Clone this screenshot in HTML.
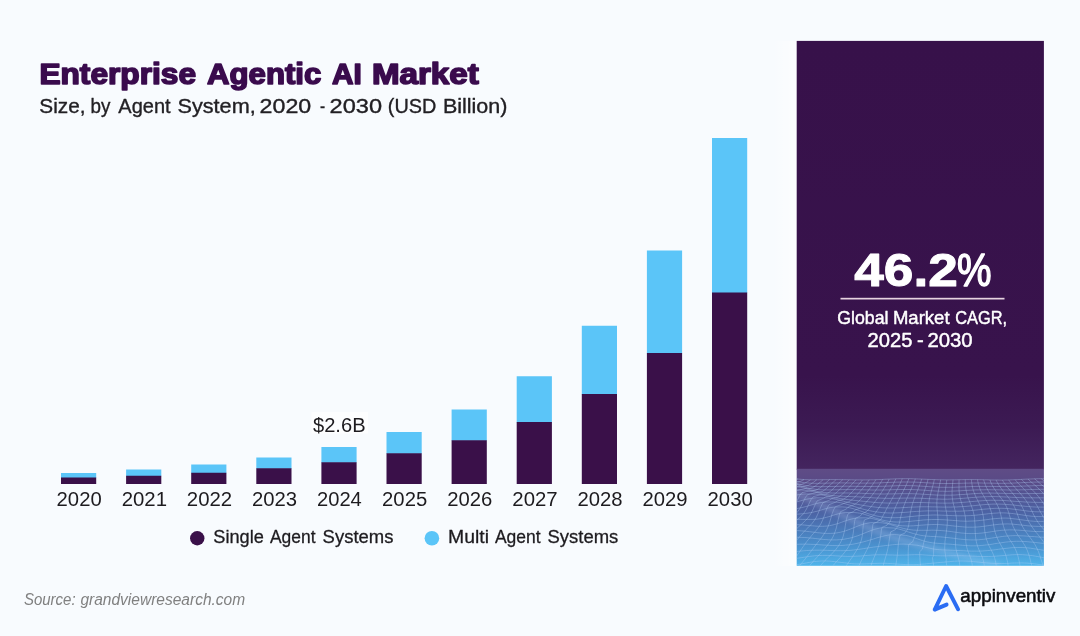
<!DOCTYPE html>
<html lang="en">
<head>
<meta charset="utf-8">
<title>Enterprise Agentic AI Market</title>
<style>
html,body{margin:0;padding:0;}
body{width:1080px;height:636px;overflow:hidden;background:#f8fbfe;font-family:"Liberation Sans",sans-serif;}
svg{display:block;position:absolute;left:0;top:0;will-change:transform;}
text{font-family:"Liberation Sans",sans-serif;}
</style>
</head>
<body>
<svg width="1080" height="636" viewBox="0 0 1080 636">
<defs>
<linearGradient id="pg" x1="0" y1="0" x2="0" y2="1">
<stop offset="0" stop-color="#37114a"/>
<stop offset="0.78" stop-color="#38134c"/>
<stop offset="0.9" stop-color="#3c1a53"/>
<stop offset="1" stop-color="#44255f"/>
</linearGradient>
<linearGradient id="mg" x1="0" y1="0" x2="0" y2="1">
<stop offset="0" stop-color="#5f4c86"/>
<stop offset="0.12" stop-color="#5a4a86"/>
<stop offset="0.45" stop-color="#4c63a4"/>
<stop offset="0.8" stop-color="#4a92cf"/>
<stop offset="1" stop-color="#4fb4ea"/>
</linearGradient>
<filter id="bl" x="-20%" y="-50%" width="140%" height="200%"><feGaussianBlur stdDeviation="2.2"/></filter>
<clipPath id="mc"><rect x="796.7" y="468.8" width="247.2" height="97"/></clipPath>
<linearGradient id="wg" x1="0" y1="0" x2="1" y2="0"><stop offset="0" stop-color="#ffffff" stop-opacity="0"/><stop offset="1" stop-color="#ffffff" stop-opacity="0.55"/></linearGradient>
</defs>
<rect x="0" y="0" width="1080" height="636" fill="#f8fbfe"/>
<rect x="61.00" y="473.00" width="35.20" height="5.00" fill="#5bc5f8"/>
<rect x="61.00" y="477.50" width="35.20" height="6.50" fill="#3a1049"/>
<rect x="126.10" y="469.50" width="35.20" height="6.75" fill="#5bc5f8"/>
<rect x="126.10" y="475.75" width="35.20" height="8.25" fill="#3a1049"/>
<rect x="191.20" y="464.50" width="35.20" height="8.75" fill="#5bc5f8"/>
<rect x="191.20" y="472.75" width="35.20" height="11.25" fill="#3a1049"/>
<rect x="256.30" y="457.50" width="35.20" height="11.25" fill="#5bc5f8"/>
<rect x="256.30" y="468.25" width="35.20" height="15.75" fill="#3a1049"/>
<rect x="321.40" y="447.00" width="35.20" height="15.75" fill="#5bc5f8"/>
<rect x="321.40" y="462.25" width="35.20" height="21.75" fill="#3a1049"/>
<rect x="386.50" y="432.00" width="35.20" height="21.75" fill="#5bc5f8"/>
<rect x="386.50" y="453.25" width="35.20" height="30.75" fill="#3a1049"/>
<rect x="451.60" y="409.50" width="35.20" height="31.25" fill="#5bc5f8"/>
<rect x="451.60" y="440.25" width="35.20" height="43.75" fill="#3a1049"/>
<rect x="516.70" y="376.25" width="35.20" height="46.25" fill="#5bc5f8"/>
<rect x="516.70" y="422.00" width="35.20" height="62.00" fill="#3a1049"/>
<rect x="581.80" y="325.75" width="35.20" height="68.75" fill="#5bc5f8"/>
<rect x="581.80" y="394.00" width="35.20" height="90.00" fill="#3a1049"/>
<rect x="646.90" y="250.50" width="35.20" height="103.00" fill="#5bc5f8"/>
<rect x="646.90" y="353.00" width="35.20" height="131.00" fill="#3a1049"/>
<rect x="712.00" y="138.00" width="35.20" height="155.00" fill="#5bc5f8"/>
<rect x="712.00" y="292.50" width="35.20" height="191.50" fill="#3a1049"/>
<rect x="311.5" y="412" width="56.5" height="21.5" fill="#ffffff" fill-opacity="0.75"/>
<text x="56.60" y="506.00" font-size="20.30" textLength="45.07" lengthAdjust="spacingAndGlyphs" fill="#1d1b1f">2020</text>
<text x="121.70" y="506.00" font-size="20.30" textLength="45.33" lengthAdjust="spacingAndGlyphs" fill="#1d1b1f">2021</text>
<text x="186.80" y="506.00" font-size="20.30" textLength="45.33" lengthAdjust="spacingAndGlyphs" fill="#1d1b1f">2022</text>
<text x="251.90" y="506.00" font-size="20.30" textLength="45.07" lengthAdjust="spacingAndGlyphs" fill="#1d1b1f">2023</text>
<text x="317.01" y="506.00" font-size="20.30" textLength="44.81" lengthAdjust="spacingAndGlyphs" fill="#1d1b1f">2024</text>
<text x="382.10" y="506.00" font-size="20.30" textLength="45.07" lengthAdjust="spacingAndGlyphs" fill="#1d1b1f">2025</text>
<text x="447.20" y="506.00" font-size="20.30" textLength="45.07" lengthAdjust="spacingAndGlyphs" fill="#1d1b1f">2026</text>
<text x="512.30" y="506.00" font-size="20.30" textLength="45.33" lengthAdjust="spacingAndGlyphs" fill="#1d1b1f">2027</text>
<text x="577.40" y="506.00" font-size="20.30" textLength="45.07" lengthAdjust="spacingAndGlyphs" fill="#1d1b1f">2028</text>
<text x="642.50" y="506.00" font-size="20.30" textLength="45.07" lengthAdjust="spacingAndGlyphs" fill="#1d1b1f">2029</text>
<text x="707.60" y="506.00" font-size="20.30" textLength="45.07" lengthAdjust="spacingAndGlyphs" fill="#1d1b1f">2030</text>
<text x="312.95" y="431.50" font-size="20.30" textLength="52.66" lengthAdjust="spacingAndGlyphs" fill="#1d1b1f">$2.6B</text>
<text x="39.43" y="84.40" font-size="28.80" textLength="156.60" lengthAdjust="spacingAndGlyphs" fill="#3a0b4d" font-weight="700" stroke="#3a0b4d" stroke-width="1.6" stroke-linejoin="round">Enterprise</text>
<text x="207.00" y="84.40" font-size="28.80" textLength="114.32" lengthAdjust="spacingAndGlyphs" fill="#3a0b4d" font-weight="700" stroke="#3a0b4d" stroke-width="1.6" stroke-linejoin="round">Agentic</text>
<text x="332.00" y="84.40" font-size="28.80" textLength="29.80" lengthAdjust="spacingAndGlyphs" fill="#3a0b4d" font-weight="700" stroke="#3a0b4d" stroke-width="1.6" stroke-linejoin="round">AI</text>
<text x="371.96" y="84.40" font-size="28.80" textLength="106.77" lengthAdjust="spacingAndGlyphs" fill="#3a0b4d" font-weight="700" stroke="#3a0b4d" stroke-width="1.6" stroke-linejoin="round">Market</text>
<text x="39.33" y="113.10" font-size="20.20" textLength="46.26" lengthAdjust="spacingAndGlyphs" fill="#222024" stroke="#222024" stroke-width="0.35" stroke-linejoin="round">Size,</text>
<text x="90.53" y="113.10" font-size="20.20" textLength="19.91" lengthAdjust="spacingAndGlyphs" fill="#222024" stroke="#222024" stroke-width="0.35" stroke-linejoin="round">by</text>
<text x="118.30" y="113.10" font-size="20.20" textLength="52.32" lengthAdjust="spacingAndGlyphs" fill="#222024" stroke="#222024" stroke-width="0.35" stroke-linejoin="round">Agent</text>
<text x="177.50" y="113.10" font-size="20.20" textLength="78.20" lengthAdjust="spacingAndGlyphs" fill="#222024" stroke="#222024" stroke-width="0.35" stroke-linejoin="round">System,</text>
<text x="259.64" y="113.10" font-size="20.20" textLength="51.63" lengthAdjust="spacingAndGlyphs" fill="#222024" stroke="#222024" stroke-width="0.35" stroke-linejoin="round">2020</text>
<text x="319.93" y="113.10" font-size="20.20" textLength="5.13" lengthAdjust="spacingAndGlyphs" fill="#222024" stroke="#222024" stroke-width="0.35" stroke-linejoin="round">-</text>
<text x="329.62" y="113.10" font-size="20.20" textLength="52.46" lengthAdjust="spacingAndGlyphs" fill="#222024" stroke="#222024" stroke-width="0.35" stroke-linejoin="round">2030</text>
<text x="387.82" y="113.10" font-size="20.20" textLength="48.53" lengthAdjust="spacingAndGlyphs" fill="#222024" stroke="#222024" stroke-width="0.35" stroke-linejoin="round">(USD</text>
<text x="442.90" y="113.10" font-size="20.20" textLength="64.56" lengthAdjust="spacingAndGlyphs" fill="#222024" stroke="#222024" stroke-width="0.35" stroke-linejoin="round">Billion)</text>
<text x="213.29" y="543.10" font-size="19.20" textLength="50.57" lengthAdjust="spacingAndGlyphs" fill="#1d1b1f" stroke="#1d1b1f" stroke-width="0.3" stroke-linejoin="round">Single</text>
<text x="270.00" y="543.10" font-size="19.20" textLength="45.51" lengthAdjust="spacingAndGlyphs" fill="#1d1b1f" stroke="#1d1b1f" stroke-width="0.3" stroke-linejoin="round">Agent</text>
<text x="322.58" y="543.10" font-size="19.20" textLength="70.88" lengthAdjust="spacingAndGlyphs" fill="#1d1b1f" stroke="#1d1b1f" stroke-width="0.3" stroke-linejoin="round">Systems</text>
<text x="448.08" y="543.10" font-size="19.20" textLength="41.00" lengthAdjust="spacingAndGlyphs" fill="#1d1b1f" stroke="#1d1b1f" stroke-width="0.3" stroke-linejoin="round">Multi</text>
<text x="494.90" y="543.10" font-size="19.20" textLength="45.71" lengthAdjust="spacingAndGlyphs" fill="#1d1b1f" stroke="#1d1b1f" stroke-width="0.3" stroke-linejoin="round">Agent</text>
<text x="547.48" y="543.10" font-size="19.20" textLength="70.88" lengthAdjust="spacingAndGlyphs" fill="#1d1b1f" stroke="#1d1b1f" stroke-width="0.3" stroke-linejoin="round">Systems</text>
<text x="23.92" y="605.30" font-size="15.80" textLength="51.74" lengthAdjust="spacingAndGlyphs" fill="#808080" font-style="italic">Source:</text>
<text x="80.40" y="605.30" font-size="15.80" textLength="164.79" lengthAdjust="spacingAndGlyphs" fill="#808080" font-style="italic">grandviewresearch.com</text>
<circle cx="197.25" cy="538.25" r="7.2" fill="#3a1049"/>
<circle cx="431.9" cy="538.25" r="7.3" fill="#5bc5f8"/>
<rect x="772" y="41" width="25" height="525" fill="url(#wg)"/><rect x="796.7" y="40.9" width="247.2" height="428.6" fill="url(#pg)"/>
<rect x="796.7" y="468.8" width="247.2" height="97" fill="url(#mg)"/>
<g clip-path="url(#mc)"><path d="M790 492 C830 505 860 528 905 541 S960 556 1000 566" fill="none" stroke="#b9d3f5" stroke-opacity="0.22" stroke-width="7" filter="url(#bl)"/><path d="M789.5 477.5 L792.0 478.0 L794.4 478.5 L796.9 478.9 L799.4 479.2 L801.9 479.4 L804.5 479.6 L807.0 479.7 L809.6 479.8 L812.1 479.8 L814.7 479.8 L817.3 479.8 L819.9 479.8 L822.5 479.7 L825.1 479.7 L827.8 479.7 L830.4 479.6 L833.0 479.6 L835.7 479.6 L838.3 479.6 L841.0 479.7 L843.7 479.7 L846.4 479.7 L849.1 479.8 L851.7 479.8 L854.4 479.9 L857.1 479.9 L859.8 479.9 L862.5 479.9 L865.3 479.9 L868.0 479.9 L870.7 479.8 L873.4 479.8 L876.1 479.7 L878.8 479.6 L881.5 479.5 L884.2 479.3 L886.9 479.2 L889.6 479.1 L892.3 479.0 L894.9 478.9 L897.6 478.8 L900.3 478.7 L902.9 478.7 L905.6 478.7 L908.2 478.7 L910.9 478.7 L913.5 478.8 L916.1 478.9 L918.7 479.0 L921.3 479.1 L923.9 479.2 L926.5 479.3 L929.0 479.4 L931.6 479.5 L934.1 479.6 L936.7 479.7 L939.2 479.8 L941.8 479.8 L944.3 479.8 L946.8 479.9 L949.3 479.9 L951.8 479.8 L954.3 479.8 L956.8 479.8 L959.3 479.7 L961.8 479.7 L964.3 479.6 L966.8 479.6 L969.3 479.6 L971.8 479.6 L974.3 479.6 L976.7 479.6 L979.2 479.7 L981.8 479.7 L984.3 479.8 L986.8 479.8 L989.3 479.9 L991.8 480.0 L994.3 480.0 L996.9 480.0 L999.4 480.1 L1002.0 480.1 L1004.6 480.0 L1007.1 480.0 L1009.7 479.9 L1012.3 479.8 L1014.9 479.7 L1017.5 479.6 L1020.1 479.5 L1022.8 479.3 L1025.4 479.2 L1028.0 479.1 L1030.7 479.0 L1033.3 478.9 L1036.0 478.8 L1038.7 478.7 L1041.4 478.7 L1044.1 478.7 L1046.8 478.7 M789.3 479.2 L791.8 480.0 L794.3 480.7 L796.8 481.4 L799.3 481.9 L801.8 482.3 L804.4 482.7 L807.0 482.9 L809.6 483.1 L812.2 483.2 L814.8 483.3 L817.4 483.3 L820.0 483.2 L822.7 483.2 L825.4 483.2 L828.0 483.1 L830.7 483.0 L833.4 483.0 L836.1 483.0 L838.7 482.9 L841.4 482.9 L844.1 482.9 L846.8 483.0 L849.6 483.0 L852.3 483.0 L855.0 483.1 L857.7 483.1 L860.4 483.1 L863.1 483.1 L865.8 483.1 L868.5 483.1 L871.2 483.1 L873.9 483.0 L876.6 483.0 L879.3 482.9 L881.9 482.8 L884.6 482.6 L887.3 482.5 L889.9 482.4 L892.6 482.3 L895.2 482.2 L897.9 482.1 L900.5 482.1 L903.1 482.0 L905.7 482.0 L908.3 482.0 L910.9 482.1 L913.5 482.1 L916.0 482.2 L918.6 482.3 L921.1 482.5 L923.7 482.6 L926.2 482.8 L928.7 482.9 L931.3 483.1 L933.8 483.2 L936.3 483.3 L938.8 483.4 L941.3 483.5 L943.8 483.5 L946.3 483.5 L948.8 483.5 L951.3 483.5 L953.8 483.5 L956.3 483.4 L958.8 483.3 L961.2 483.3 L963.7 483.2 L966.2 483.1 L968.7 483.1 L971.3 483.0 L973.8 483.0 L976.3 483.0 L978.8 483.0 L981.3 483.0 L983.9 483.1 L986.4 483.1 L989.0 483.1 L991.6 483.2 L994.1 483.2 L996.7 483.3 L999.3 483.3 L1001.9 483.3 L1004.5 483.3 L1007.1 483.2 L1009.8 483.2 L1012.4 483.1 L1015.0 483.0 L1017.7 482.9 L1020.4 482.8 L1023.0 482.6 L1025.7 482.5 L1028.4 482.4 L1031.1 482.3 L1033.8 482.1 L1036.5 482.1 L1039.2 482.0 L1041.9 482.0 L1044.6 482.0 L1047.3 482.0 M789.3 480.7 L791.9 481.6 L794.4 482.5 L796.9 483.3 L799.5 484.1 L802.0 484.7 L804.6 485.3 L807.2 485.7 L809.8 486.1 L812.5 486.4 L815.1 486.5 L817.8 486.6 L820.4 486.7 L823.1 486.7 L825.8 486.6 L828.5 486.6 L831.2 486.5 L833.9 486.4 L836.6 486.4 L839.3 486.3 L842.0 486.3 L844.7 486.2 L847.4 486.2 L850.1 486.3 L852.8 486.3 L855.5 486.3 L858.2 486.4 L860.9 486.4 L863.6 486.4 L866.3 486.4 L869.0 486.5 L871.6 486.5 L874.3 486.4 L877.0 486.4 L879.6 486.3 L882.2 486.3 L884.9 486.2 L887.5 486.1 L890.1 486.0 L892.7 485.9 L895.3 485.8 L897.9 485.7 L900.5 485.6 L903.0 485.6 L905.6 485.6 L908.1 485.6 L910.7 485.7 L913.2 485.7 L915.7 485.8 L918.2 486.0 L920.8 486.1 L923.3 486.3 L925.8 486.4 L928.3 486.6 L930.8 486.8 L933.3 486.9 L935.8 487.1 L938.2 487.2 L940.7 487.3 L943.2 487.3 L945.7 487.3 L948.2 487.3 L950.7 487.3 L953.2 487.3 L955.7 487.2 L958.2 487.1 L960.7 487.0 L963.3 486.9 L965.8 486.8 L968.3 486.7 L970.9 486.6 L973.4 486.5 L976.0 486.4 L978.5 486.4 L981.1 486.4 L983.7 486.4 L986.3 486.4 L988.9 486.4 L991.5 486.4 L994.1 486.5 L996.8 486.5 L999.4 486.5 L1002.1 486.6 L1004.7 486.6 L1007.4 486.5 L1010.0 486.5 L1012.7 486.5 L1015.4 486.4 L1018.1 486.3 L1020.8 486.2 L1023.5 486.1 L1026.2 486.0 L1028.9 485.9 L1031.6 485.8 L1034.3 485.7 L1037.0 485.6 L1039.7 485.5 L1042.4 485.5 L1045.1 485.5 L1047.8 485.5 M789.6 482.5 L792.2 483.2 L794.8 484.0 L797.4 484.8 L800.0 485.7 L802.6 486.5 L805.2 487.2 L807.8 487.9 L810.4 488.5 L813.1 488.9 L815.7 489.3 L818.4 489.6 L821.0 489.8 L823.7 489.9 L826.4 489.9 L829.1 489.9 L831.8 489.9 L834.5 489.8 L837.2 489.8 L839.9 489.7 L842.6 489.6 L845.3 489.6 L848.0 489.6 L850.7 489.6 L853.3 489.6 L856.0 489.7 L858.7 489.7 L861.3 489.8 L864.0 489.8 L866.6 489.9 L869.3 489.9 L871.9 490.0 L874.5 490.0 L877.1 490.0 L879.7 490.0 L882.3 490.0 L884.9 489.9 L887.4 489.9 L890.0 489.8 L892.5 489.7 L895.1 489.6 L897.6 489.6 L900.2 489.5 L902.7 489.5 L905.2 489.5 L907.7 489.5 L910.2 489.5 L912.7 489.6 L915.2 489.7 L917.7 489.8 L920.2 490.0 L922.7 490.1 L925.2 490.3 L927.7 490.5 L930.2 490.7 L932.7 490.8 L935.2 491.0 L937.7 491.1 L940.2 491.2 L942.7 491.2 L945.2 491.3 L947.7 491.3 L950.2 491.2 L952.8 491.1 L955.3 491.0 L957.8 490.9 L960.4 490.8 L963.0 490.6 L965.5 490.5 L968.1 490.3 L970.7 490.2 L973.3 490.1 L975.9 489.9 L978.5 489.9 L981.2 489.8 L983.8 489.8 L986.4 489.7 L989.1 489.7 L991.7 489.8 L994.4 489.8 L997.1 489.8 L999.8 489.9 L1002.4 489.9 L1005.1 489.9 L1007.8 490.0 L1010.5 490.0 L1013.2 490.0 L1015.9 489.9 L1018.7 489.9 L1021.4 489.8 L1024.1 489.8 L1026.8 489.7 L1029.5 489.6 L1032.2 489.5 L1034.9 489.4 L1037.6 489.4 L1040.3 489.3 L1043.0 489.3 L1045.7 489.3 L1048.3 489.4 M786.0 485.6 L792.8 485.8 L795.4 486.2 L798.1 486.7 L800.7 487.3 L803.4 487.9 L806.0 488.7 L808.6 489.4 L811.3 490.1 L813.9 490.7 L816.5 491.3 L819.2 491.8 L821.8 492.2 L824.5 492.5 L827.1 492.7 L829.8 492.9 L832.4 493.0 L835.1 493.0 L837.8 493.1 L840.4 493.0 L843.1 493.0 L845.7 493.0 L848.4 493.0 L851.0 493.1 L853.7 493.1 L856.3 493.2 L858.9 493.2 L861.5 493.3 L864.1 493.4 L866.7 493.5 L869.3 493.6 L871.8 493.7 L874.4 493.8 L877.0 493.9 L879.5 493.9 L882.0 494.0 L884.6 494.0 L887.1 493.9 L889.6 493.9 L892.1 493.9 L894.6 493.8 L897.1 493.8 L899.6 493.7 L902.1 493.7 L904.6 493.7 L907.1 493.7 L909.6 493.7 L912.1 493.7 L914.6 493.8 L917.1 493.9 L919.6 494.0 L922.1 494.2 L924.6 494.3 L927.1 494.5 L929.6 494.6 L932.1 494.8 L934.6 494.9 L937.2 495.1 L939.7 495.1 L942.3 495.2 L944.8 495.2 L947.4 495.2 L949.9 495.2 L952.5 495.1 L955.1 495.0 L957.7 494.8 L960.3 494.6 L962.9 494.5 L965.5 494.3 L968.2 494.1 L970.8 493.9 L973.5 493.7 L976.1 493.5 L978.8 493.4 L981.5 493.3 L984.1 493.2 L986.8 493.2 L989.5 493.1 L992.2 493.1 L994.9 493.2 L997.6 493.2 L1000.3 493.3 L1003.0 493.3 L1005.7 493.4 L1008.4 493.5 L1011.2 493.5 L1013.9 493.6 L1016.6 493.6 L1019.3 493.7 L1022.0 493.7 L1024.7 493.6 L1027.4 493.6 L1030.0 493.6 L1032.7 493.5 L1035.4 493.5 L1038.1 493.5 L1040.7 493.4 L1043.4 493.4 L1046.0 493.4 L1048.7 493.5 M786.9 490.6 L789.5 490.2 L792.1 490.0 L794.7 489.9 L801.5 490.0 L804.2 490.2 L806.9 490.5 L809.5 491.0 L812.2 491.5 L814.8 492.1 L817.4 492.7 L820.0 493.3 L822.6 493.8 L825.2 494.3 L827.8 494.8 L830.4 495.2 L833.0 495.5 L835.6 495.8 L838.2 496.0 L840.8 496.1 L843.4 496.3 L846.0 496.4 L848.5 496.5 L851.1 496.6 L853.7 496.7 L856.3 496.8 L858.8 496.9 L861.4 497.1 L863.9 497.3 L866.4 497.4 L869.0 497.6 L871.5 497.7 L874.0 497.9 L876.5 498.0 L879.0 498.1 L881.5 498.2 L884.0 498.3 L886.5 498.3 L889.0 498.4 L891.5 498.3 L894.0 498.3 L896.5 498.3 L899.0 498.2 L901.5 498.2 L904.0 498.1 L906.5 498.1 L909.0 498.1 L911.5 498.1 L914.0 498.1 L916.5 498.2 L919.0 498.2 L921.6 498.3 L924.1 498.4 L926.7 498.6 L929.2 498.7 L931.8 498.8 L934.3 498.9 L936.9 499.1 L939.5 499.1 L942.1 499.2 L944.7 499.2 L947.3 499.2 L949.9 499.1 L952.6 499.0 L955.2 498.9 L957.9 498.7 L960.5 498.6 L963.2 498.3 L965.9 498.1 L968.5 497.9 L971.2 497.6 L973.9 497.4 L976.6 497.2 L979.3 497.0 L982.0 496.9 L984.7 496.8 L987.4 496.7 L990.1 496.6 L992.9 496.6 L995.6 496.6 L998.3 496.7 L1001.0 496.8 L1003.7 496.9 L1006.4 497.0 L1009.1 497.1 L1011.8 497.3 L1014.4 497.4 L1017.1 497.5 L1019.8 497.6 L1022.5 497.7 L1025.1 497.7 L1027.8 497.8 L1030.4 497.8 L1033.1 497.8 L1035.7 497.8 L1038.3 497.8 L1040.9 497.8 L1043.5 497.8 L1046.1 497.8 L1048.7 497.8 M788.5 497.0 L790.9 496.4 L793.4 495.7 L795.8 495.2 L798.3 494.7 L800.9 494.3 L803.4 494.1 L806.1 494.0 L812.8 494.0 L815.5 494.1 L818.1 494.4 L820.7 494.7 L823.2 495.2 L825.8 495.7 L828.3 496.2 L830.8 496.8 L833.4 497.3 L835.9 497.8 L838.4 498.2 L840.9 498.7 L843.4 499.0 L845.9 499.4 L848.4 499.7 L850.9 500.0 L853.4 500.3 L855.9 500.5 L858.4 500.8 L860.9 501.0 L863.4 501.3 L865.9 501.5 L868.4 501.8 L870.9 502.0 L873.4 502.3 L875.9 502.5 L878.4 502.7 L880.9 502.8 L883.4 502.9 L885.8 503.0 L888.3 503.1 L890.8 503.1 L893.3 503.1 L895.9 503.0 L898.4 503.0 L900.9 502.9 L903.4 502.8 L905.9 502.7 L908.5 502.7 L911.0 502.6 L913.6 502.6 L916.2 502.5 L918.7 502.5 L921.3 502.6 L923.9 502.6 L926.5 502.7 L929.1 502.8 L931.7 502.9 L934.4 502.9 L937.0 503.0 L939.6 503.1 L942.3 503.1 L945.0 503.2 L947.6 503.1 L950.3 503.1 L953.0 503.0 L955.7 502.9 L958.4 502.7 L961.1 502.5 L963.8 502.3 L966.5 502.1 L969.2 501.8 L971.9 501.6 L974.6 501.3 L977.3 501.1 L980.0 500.9 L982.7 500.7 L985.4 500.5 L988.1 500.4 L990.8 500.3 L993.5 500.3 L996.2 500.3 L998.9 500.3 L1001.6 500.4 L1004.2 500.5 L1006.9 500.7 L1009.5 500.9 L1012.2 501.1 L1014.8 501.3 L1017.5 501.5 L1020.1 501.6 L1022.7 501.8 L1025.3 502.0 L1027.9 502.1 L1030.5 502.2 L1033.1 502.3 L1035.6 502.3 L1038.2 502.4 L1040.7 502.4 L1043.3 502.4 L1045.8 502.4 L1048.3 502.4 M790.0 503.7 L792.4 503.1 L794.8 502.4 L797.2 501.8 L799.6 501.1 L802.0 500.4 L804.4 499.8 L806.8 499.2 L809.2 498.7 L811.7 498.3 L814.2 498.0 L816.7 497.8 L823.4 497.8 L825.9 497.9 L828.4 498.1 L830.9 498.4 L833.4 498.9 L835.9 499.4 L838.3 499.9 L840.8 500.5 L843.2 501.1 L845.6 501.8 L848.1 502.3 L850.5 502.9 L852.9 503.4 L855.4 504.0 L857.9 504.4 L860.3 504.9 L862.8 505.3 L865.2 505.7 L867.7 506.1 L870.2 506.5 L872.7 506.8 L875.2 507.1 L877.7 507.4 L880.2 507.6 L882.7 507.8 L885.2 507.9 L887.8 508.0 L890.3 508.0 L892.9 508.0 L895.4 507.9 L898.0 507.9 L900.5 507.8 L903.1 507.6 L905.7 507.5 L908.3 507.3 L910.9 507.2 L913.5 507.1 L916.1 507.0 L918.8 506.9 L921.4 506.8 L924.1 506.8 L926.7 506.8 L929.4 506.8 L932.1 506.9 L934.7 506.9 L937.4 507.0 L940.1 507.0 L942.8 507.1 L945.5 507.1 L948.2 507.1 L950.9 507.1 L953.6 507.0 L956.3 507.0 L959.0 506.8 L961.8 506.7 L964.5 506.5 L967.2 506.3 L969.9 506.0 L972.6 505.8 L975.3 505.5 L978.0 505.2 L980.6 505.0 L983.3 504.7 L986.0 504.5 L988.7 504.4 L991.3 504.2 L994.0 504.1 L996.6 504.1 L999.2 504.1 L1001.9 504.2 L1004.5 504.3 L1007.1 504.5 L1009.7 504.7 L1012.3 504.9 L1014.9 505.2 L1017.4 505.5 L1020.0 505.8 L1022.6 506.0 L1025.1 506.3 L1027.6 506.5 L1030.2 506.7 L1032.7 506.9 L1035.2 507.0 L1037.7 507.1 L1040.2 507.1 L1042.7 507.1 L1045.2 507.1 L1047.7 507.0 M790.9 509.6 L793.4 509.2 L795.8 508.8 L798.3 508.3 L800.7 507.8 L803.0 507.3 L805.3 506.7 L807.6 506.1 L809.9 505.4 L812.2 504.7 L814.5 504.1 L816.8 503.5 L819.2 502.9 L821.5 502.5 L823.9 502.2 L826.4 502.0 L833.0 502.0 L835.5 502.1 L837.9 502.3 L840.4 502.7 L842.8 503.2 L845.2 503.8 L847.6 504.5 L850.0 505.2 L852.5 506.0 L854.9 506.7 L857.3 507.5 L859.8 508.2 L862.2 508.9 L864.7 509.6 L867.2 510.2 L869.7 510.7 L872.2 511.2 L874.7 511.7 L877.2 512.0 L879.8 512.3 L882.4 512.6 L884.9 512.8 L887.5 512.9 L890.1 513.0 L892.7 513.0 L895.3 512.9 L897.9 512.8 L900.6 512.6 L903.2 512.5 L905.9 512.3 L908.5 512.1 L911.2 511.8 L913.9 511.6 L916.5 511.4 L919.2 511.3 L921.9 511.1 L924.6 511.0 L927.3 510.9 L930.0 510.9 L932.7 510.9 L935.4 510.9 L938.1 510.9 L940.8 511.0 L943.5 511.1 L946.2 511.1 L949.0 511.2 L951.7 511.2 L954.4 511.2 L957.1 511.2 L959.7 511.2 L962.4 511.1 L965.1 510.9 L967.8 510.8 L970.5 510.6 L973.1 510.3 L975.8 510.1 L978.4 509.8 L981.0 509.5 L983.7 509.2 L986.3 509.0 L988.9 508.8 L991.5 508.6 L994.1 508.4 L996.7 508.3 L999.2 508.3 L1001.8 508.3 L1004.4 508.4 L1006.9 508.5 L1009.4 508.7 L1012.0 509.0 L1014.5 509.3 L1017.0 509.6 L1019.5 510.0 L1022.0 510.3 L1024.5 510.7 L1027.0 511.0 L1029.5 511.3 L1032.0 511.5 L1034.5 511.7 L1037.0 511.8 L1039.5 511.8 L1042.0 511.8 L1044.5 511.8 L1047.0 511.7 M791.1 514.6 L793.6 514.4 L796.0 514.2 L798.5 514.1 L800.9 513.9 L803.3 513.7 L805.7 513.4 L808.0 513.1 L810.4 512.7 L812.6 512.3 L814.9 511.7 L817.2 511.2 L819.4 510.5 L821.6 509.9 L823.9 509.2 L826.1 508.6 L828.4 508.0 L830.8 507.5 L833.2 507.2 L835.6 507.0 L842.2 506.9 L844.7 507.1 L847.2 507.3 L849.7 507.8 L852.1 508.4 L854.6 509.1 L857.1 509.8 L859.6 510.7 L862.0 511.5 L864.5 512.4 L867.1 513.3 L869.6 514.1 L872.1 514.8 L874.7 515.5 L877.3 516.1 L879.8 516.6 L882.5 517.0 L885.1 517.3 L887.7 517.5 L890.4 517.7 L893.0 517.7 L895.7 517.7 L898.4 517.6 L901.0 517.5 L903.7 517.3 L906.4 517.0 L909.1 516.7 L911.8 516.5 L914.5 516.2 L917.2 515.9 L919.9 515.7 L922.7 515.5 L925.4 515.3 L928.1 515.2 L930.8 515.1 L933.5 515.0 L936.2 515.0 L938.9 515.1 L941.6 515.2 L944.3 515.3 L946.9 515.4 L949.6 515.5 L952.3 515.6 L954.9 515.7 L957.6 515.8 L960.2 515.8 L962.9 515.8 L965.5 515.8 L968.1 515.7 L970.7 515.6 L973.3 515.4 L975.9 515.2 L978.5 514.9 L981.0 514.6 L983.6 514.3 L986.2 514.0 L988.7 513.7 L991.2 513.5 L993.8 513.2 L996.3 513.1 L998.8 512.9 L1001.3 512.9 L1003.8 512.9 L1006.3 513.0 L1008.8 513.2 L1011.3 513.4 L1013.8 513.7 L1016.3 514.1 L1018.8 514.4 L1021.3 514.8 L1023.8 515.2 L1026.3 515.6 L1028.8 515.9 L1031.3 516.2 L1033.8 516.4 L1036.3 516.5 L1038.8 516.6 L1041.3 516.6 L1043.8 516.6 L1046.4 516.5 M790.6 519.4 L793.1 519.3 L795.5 519.3 L798.0 519.3 L800.5 519.3 L802.9 519.4 L805.4 519.4 L807.8 519.4 L810.2 519.4 L812.6 519.4 L815.0 519.3 L817.3 519.1 L819.6 518.8 L821.9 518.4 L824.2 517.9 L826.5 517.3 L828.8 516.7 L831.1 516.0 L833.3 515.2 L835.7 514.5 L838.0 513.9 L840.4 513.3 L842.9 512.9 L845.4 512.6 L852.0 512.5 L854.6 512.6 L857.2 512.8 L859.8 513.2 L862.4 513.8 L864.9 514.5 L867.5 515.3 L870.1 516.2 L872.7 517.1 L875.3 518.0 L877.9 518.8 L880.5 519.6 L883.1 520.2 L885.8 520.8 L888.4 521.3 L891.1 521.6 L893.8 521.9 L896.4 522.0 L899.1 522.0 L901.8 522.0 L904.5 521.8 L907.2 521.6 L909.9 521.4 L912.6 521.1 L915.3 520.8 L918.0 520.6 L920.7 520.3 L923.4 520.0 L926.1 519.8 L928.8 519.7 L931.4 519.6 L934.1 519.5 L936.8 519.5 L939.4 519.6 L942.0 519.7 L944.7 519.8 L947.3 520.0 L949.9 520.2 L952.5 520.4 L955.1 520.6 L957.7 520.8 L960.3 521.0 L962.8 521.1 L965.4 521.2 L967.9 521.2 L970.5 521.1 L973.0 521.0 L975.5 520.9 L978.0 520.7 L980.6 520.4 L983.1 520.1 L985.6 519.8 L988.1 519.5 L990.6 519.1 L993.1 518.8 L995.6 518.6 L998.0 518.4 L1000.5 518.2 L1003.0 518.1 L1005.5 518.1 L1008.0 518.2 L1010.5 518.4 L1013.0 518.7 L1015.5 519.0 L1018.0 519.3 L1020.5 519.7 L1023.1 520.0 L1025.6 520.4 L1028.1 520.7 L1030.7 521.0 L1033.2 521.2 L1035.8 521.4 L1038.3 521.4 L1040.9 521.4 L1043.5 521.4 L1046.1 521.3 M789.7 524.7 L792.2 524.6 L794.7 524.6 L797.2 524.7 L799.7 524.8 L802.2 524.9 L804.7 525.1 L807.2 525.4 L809.7 525.6 L812.2 525.8 L814.7 526.0 L817.2 526.2 L819.7 526.3 L822.2 526.3 L824.6 526.2 L827.1 526.0 L829.5 525.7 L831.9 525.2 L834.3 524.6 L836.7 523.9 L839.1 523.2 L841.5 522.3 L843.9 521.4 L846.3 520.6 L848.7 519.8 L851.2 519.1 L853.7 518.5 L856.3 518.1 L858.9 517.9 L865.7 517.8 L868.4 518.0 L871.0 518.3 L873.7 518.9 L876.3 519.5 L879.0 520.3 L881.6 521.1 L884.3 521.9 L886.9 522.7 L889.5 523.5 L892.2 524.1 L894.8 524.7 L897.4 525.2 L900.1 525.6 L902.7 525.8 L905.4 525.9 L908.0 526.0 L910.7 525.9 L913.3 525.8 L916.0 525.6 L918.6 525.4 L921.2 525.2 L923.9 525.0 L926.5 524.8 L929.1 524.7 L931.7 524.6 L934.3 524.5 L936.9 524.6 L939.5 524.6 L942.0 524.8 L944.6 525.0 L947.1 525.2 L949.7 525.5 L952.2 525.8 L954.7 526.1 L957.3 526.3 L959.8 526.6 L962.3 526.8 L964.8 527.0 L967.3 527.2 L969.8 527.2 L972.3 527.2 L974.8 527.1 L977.3 527.0 L979.8 526.8 L982.2 526.5 L984.7 526.2 L987.2 525.8 L989.7 525.5 L992.2 525.1 L994.7 524.8 L997.2 524.5 L999.8 524.2 L1002.3 524.1 L1004.8 524.0 L1007.3 523.9 L1009.9 524.0 L1012.4 524.1 L1015.0 524.4 L1017.5 524.6 L1020.1 524.9 L1022.7 525.2 L1025.3 525.5 L1027.9 525.8 L1030.5 526.0 L1033.1 526.2 L1035.8 526.3 L1038.4 526.4 L1041.0 526.4 L1043.7 526.3 L1046.4 526.2 M789.0 530.6 L791.5 530.6 L794.1 530.6 L796.6 530.6 L799.2 530.7 L801.7 530.9 L804.3 531.1 L806.9 531.4 L809.5 531.7 L812.1 532.0 L814.7 532.3 L817.3 532.7 L819.9 532.9 L822.5 533.2 L825.1 533.4 L827.8 533.4 L830.4 533.4 L833.0 533.3 L835.5 533.1 L838.1 532.7 L840.6 532.2 L843.2 531.5 L845.7 530.8 L848.2 529.9 L850.6 529.0 L853.1 528.0 L855.5 527.0 L858.0 526.0 L860.5 525.1 L862.9 524.3 L865.5 523.6 L868.0 523.1 L870.6 522.7 L873.3 522.6 L880.1 522.7 L882.7 522.9 L885.4 523.4 L888.0 523.9 L890.6 524.6 L893.2 525.4 L895.8 526.2 L898.3 527.0 L900.9 527.7 L903.4 528.4 L906.0 529.0 L908.5 529.4 L911.1 529.8 L913.6 530.1 L916.2 530.2 L918.7 530.3 L921.3 530.3 L923.8 530.3 L926.3 530.3 L928.9 530.3 L931.4 530.2 L933.9 530.2 L936.4 530.3 L939.0 530.4 L941.5 530.6 L944.0 530.8 L946.5 531.0 L949.0 531.3 L951.5 531.6 L953.9 532.0 L956.4 532.3 L958.9 532.7 L961.4 533.0 L963.9 533.2 L966.4 533.4 L968.9 533.6 L971.4 533.6 L973.9 533.6 L976.4 533.5 L978.9 533.3 L981.5 533.1 L984.0 532.8 L986.5 532.5 L989.1 532.1 L991.6 531.7 L994.2 531.3 L996.7 530.9 L999.3 530.6 L1001.9 530.3 L1004.5 530.1 L1007.1 530.0 L1009.7 529.9 L1012.3 529.9 L1015.0 530.0 L1017.6 530.1 L1020.3 530.3 L1022.9 530.5 L1025.6 530.8 L1028.2 531.0 L1030.9 531.2 L1033.6 531.4 L1036.3 531.5 L1039.0 531.6 L1041.7 531.6 L1044.4 531.6 L1047.1 531.5 M788.7 537.3 L791.3 537.3 L793.9 537.2 L796.6 537.2 L799.2 537.3 L801.8 537.4 L804.5 537.5 L807.1 537.7 L809.8 538.0 L812.5 538.2 L815.2 538.5 L817.9 538.8 L820.5 539.1 L823.2 539.4 L825.9 539.6 L828.6 539.8 L831.3 539.9 L834.0 539.9 L836.7 539.9 L839.4 539.7 L842.0 539.5 L844.7 539.1 L847.3 538.6 L849.9 538.1 L852.5 537.4 L855.1 536.6 L857.6 535.8 L860.1 534.9 L862.5 533.9 L865.0 532.9 L867.4 531.9 L869.8 531.0 L872.2 530.1 L874.6 529.3 L877.0 528.7 L879.4 528.2 L881.9 527.8 L884.4 527.7 L887.0 527.7 L893.6 528.0 L896.2 528.4 L898.7 529.0 L901.2 529.7 L903.7 530.4 L906.1 531.2 L908.6 532.1 L911.0 532.8 L913.5 533.6 L915.9 534.2 L918.4 534.8 L920.8 535.3 L923.3 535.7 L925.7 536.0 L928.2 536.2 L930.6 536.4 L933.1 536.5 L935.6 536.6 L938.1 536.8 L940.6 536.9 L943.1 537.1 L945.5 537.4 L948.0 537.6 L950.5 537.9 L953.1 538.2 L955.6 538.5 L958.1 538.9 L960.6 539.2 L963.1 539.4 L965.7 539.7 L968.2 539.8 L970.8 539.9 L973.4 539.9 L975.9 539.9 L978.5 539.8 L981.1 539.5 L983.7 539.3 L986.3 538.9 L988.9 538.5 L991.6 538.1 L994.2 537.7 L996.8 537.3 L999.5 536.9 L1002.2 536.5 L1004.8 536.2 L1007.5 536.0 L1010.2 535.8 L1012.9 535.7 L1015.6 535.6 L1018.3 535.7 L1021.0 535.8 L1023.7 535.9 L1026.4 536.1 L1029.1 536.3 L1031.8 536.5 L1034.5 536.7 L1037.2 536.9 L1039.9 537.1 L1042.6 537.2 L1045.3 537.3 L1048.0 537.3 M789.1 544.6 L791.8 544.5 L794.5 544.4 L797.1 544.3 L799.8 544.2 L802.5 544.2 L805.2 544.1 L808.0 544.2 L810.7 544.3 L813.4 544.4 L816.1 544.5 L818.8 544.7 L821.5 544.9 L824.2 545.1 L826.9 545.2 L829.6 545.4 L832.3 545.5 L835.0 545.6 L837.7 545.6 L840.3 545.5 L843.0 545.4 L845.6 545.1 L848.3 544.9 L850.9 544.5 L853.5 544.1 L856.1 543.6 L858.7 543.0 L861.2 542.4 L863.7 541.8 L866.2 541.1 L868.7 540.4 L871.1 539.7 L873.5 539.0 L875.8 538.2 L878.2 537.5 L880.5 536.9 L882.7 536.3 L885.0 535.7 L887.3 535.3 L889.6 534.9 L892.0 534.7 L894.3 534.6 L896.8 534.7 L899.2 535.0 L905.6 535.4 L908.0 535.9 L910.5 536.6 L912.9 537.4 L915.3 538.2 L917.7 539.0 L920.1 539.8 L922.5 540.6 L925.0 541.3 L927.4 541.9 L929.8 542.4 L932.3 542.8 L934.8 543.1 L937.3 543.3 L939.8 543.5 L942.3 543.7 L944.9 543.9 L947.4 544.0 L950.0 544.2 L952.5 544.4 L955.1 544.7 L957.7 544.9 L960.3 545.1 L962.9 545.3 L965.5 545.5 L968.2 545.7 L970.8 545.8 L973.4 545.8 L976.1 545.8 L978.7 545.7 L981.4 545.5 L984.1 545.2 L986.8 544.9 L989.5 544.6 L992.2 544.2 L994.8 543.7 L997.5 543.3 L1000.3 542.9 L1003.0 542.5 L1005.7 542.1 L1008.4 541.8 L1011.1 541.6 L1013.8 541.4 L1016.5 541.3 L1019.2 541.3 L1021.9 541.4 L1024.6 541.5 L1027.3 541.7 L1030.0 542.0 L1032.7 542.2 L1035.4 542.5 L1038.0 542.8 L1040.7 543.1 L1043.3 543.4 L1046.0 543.6 L1048.6 543.8 M790.0 552.0 L792.7 551.8 L795.4 551.6 L798.1 551.3 L800.8 551.1 L803.5 550.8 L806.2 550.6 L808.9 550.4 L811.6 550.3 L814.3 550.2 L817.0 550.2 L819.6 550.2 L822.3 550.2 L825.0 550.3 L827.6 550.4 L830.2 550.5 L832.9 550.6 L835.5 550.7 L838.1 550.7 L840.7 550.7 L843.3 550.7 L845.9 550.6 L848.4 550.5 L851.0 550.3 L853.6 550.0 L856.1 549.7 L858.6 549.4 L861.2 549.0 L863.7 548.6 L866.2 548.2 L868.6 547.9 L871.1 547.5 L873.5 547.1 L876.0 546.8 L878.4 546.5 L880.7 546.2 L883.1 545.9 L885.4 545.6 L887.7 545.3 L890.0 545.1 L892.3 544.8 L894.5 544.6 L896.8 544.4 L899.1 544.2 L901.4 544.1 L903.8 544.1 L906.2 544.2 L908.7 544.4 L911.3 544.7 L917.0 545.2 L919.5 545.7 L922.0 546.3 L924.5 547.0 L927.0 547.6 L929.5 548.2 L932.0 548.7 L934.5 549.2 L937.1 549.5 L939.6 549.7 L942.2 549.9 L944.8 550.0 L947.4 550.1 L950.1 550.2 L952.7 550.3 L955.4 550.4 L958.1 550.5 L960.7 550.6 L963.4 550.7 L966.1 550.9 L968.8 551.0 L971.5 551.1 L974.2 551.1 L976.9 551.1 L979.6 551.1 L982.3 551.0 L985.0 550.8 L987.7 550.6 L990.4 550.3 L993.1 550.0 L995.8 549.7 L998.5 549.3 L1001.2 548.9 L1003.9 548.6 L1006.6 548.3 L1009.3 548.0 L1012.0 547.7 L1014.6 547.6 L1017.3 547.5 L1020.0 547.5 L1022.6 547.5 L1025.2 547.7 L1027.9 547.9 L1030.5 548.2 L1033.1 548.6 L1035.7 549.0 L1038.3 549.4 L1040.9 549.8 L1043.4 550.2 L1046.0 550.6 L1048.6 550.9 M791.0 559.1 L793.6 558.8 L796.3 558.4 L798.9 558.0 L801.6 557.6 L804.2 557.2 L806.9 556.8 L809.5 556.4 L812.1 556.1 L814.7 555.8 L817.3 555.6 L819.9 555.5 L822.5 555.4 L825.0 555.4 L827.6 555.4 L830.1 555.5 L832.7 555.6 L835.2 555.8 L837.7 555.9 L840.3 556.1 L842.8 556.2 L845.3 556.3 L847.8 556.4 L850.3 556.4 L852.8 556.3 L855.3 556.2 L857.8 556.1 L860.3 556.0 L862.7 555.8 L865.2 555.6 L867.7 555.4 L870.2 555.2 L872.7 555.0 L875.2 554.9 L877.7 554.8 L880.2 554.8 L882.6 554.8 L885.1 554.8 L887.6 554.9 L890.0 555.0 L892.5 555.0 L894.9 555.1 L897.3 555.2 L899.7 555.2 L902.1 555.1 L904.6 555.1 L907.0 555.0 L909.4 554.9 L911.9 554.8 L914.5 554.7 L917.1 554.7 L919.7 554.7 L922.5 554.8 L925.2 555.0 L928.0 555.2 L932.4 555.4 L935.0 555.6 L937.6 555.7 L940.3 555.8 L942.9 555.8 L945.6 555.8 L948.2 555.8 L950.9 555.7 L953.6 555.7 L956.3 555.7 L959.0 555.7 L961.7 555.7 L964.4 555.8 L967.1 555.9 L969.8 556.0 L972.5 556.1 L975.2 556.2 L977.9 556.4 L980.6 556.4 L983.3 556.5 L986.0 556.5 L988.6 556.5 L991.3 556.4 L994.0 556.3 L996.6 556.1 L999.2 555.9 L1001.9 555.7 L1004.5 555.5 L1007.1 555.2 L1009.7 555.0 L1012.3 554.8 L1014.9 554.7 L1017.5 554.6 L1020.0 554.6 L1022.6 554.7 L1025.1 554.9 L1027.7 555.1 L1030.2 555.4 L1032.7 555.7 L1035.2 556.1 L1037.8 556.6 L1040.3 557.0 L1042.8 557.5 L1045.3 557.9 L1047.8 558.3 M791.3 565.5 L793.9 565.2 L796.4 564.8 L799.0 564.3 L801.6 563.9 L804.1 563.4 L806.7 562.9 L809.2 562.4 L811.7 562.0 L814.2 561.6 L816.7 561.3 L819.3 561.1 L821.8 561.0 L824.3 560.9 L826.8 561.0 L829.3 561.1 L831.7 561.3 L834.2 561.6 L836.7 561.8 L839.2 562.2 L841.7 562.5 L844.2 562.8 L846.7 563.1 L849.2 563.4 L851.7 563.6 L854.2 563.8 L856.7 563.9 L859.3 563.9 L861.8 563.9 L864.3 563.9 L866.9 563.8 L869.4 563.7 L872.0 563.6 L874.5 563.5 L877.1 563.4 L879.7 563.3 L882.3 563.3 L884.9 563.3 L887.5 563.4 L890.1 563.5 L892.7 563.7 L895.3 563.9 L897.9 564.1 L900.6 564.3 L903.2 564.4 L905.8 564.6 L908.4 564.7 L911.0 564.7 L913.6 564.7 L916.2 564.6 L918.8 564.4 L921.5 564.2 L924.2 564.0 L926.8 563.8 L929.6 563.5 L932.3 563.2 L935.1 563.0 L937.8 562.7 L940.6 562.4 L943.4 562.2 L946.2 561.9 L949.3 561.7 L952.0 561.4 L954.7 561.2 L957.3 561.1 L960.0 561.0 L962.7 561.0 L965.3 561.1 L968.0 561.2 L970.6 561.3 L973.2 561.6 L975.9 561.8 L978.5 562.1 L981.1 562.4 L983.7 562.6 L986.3 562.9 L988.9 563.1 L991.4 563.3 L994.0 563.4 L996.6 563.5 L999.1 563.5 L1001.7 563.5 L1004.2 563.5 L1006.7 563.4 L1009.2 563.3 L1011.7 563.1 L1014.2 563.0 L1016.8 563.0 L1019.3 562.9 L1021.7 562.9 L1024.2 563.0 L1026.7 563.1 L1029.2 563.3 L1031.7 563.5 L1034.2 563.8 L1036.7 564.1 L1039.2 564.5 L1041.7 564.8 L1044.2 565.2 L1046.7 565.6 M790.7 571.5 L793.2 571.3 L795.7 571.0 L798.2 570.7 L800.7 570.3 L803.2 569.9 L805.7 569.5 L808.2 569.1 L810.6 568.7 L813.1 568.4 L815.6 568.1 L818.1 567.9 L820.6 567.8 L823.1 567.7 L825.6 567.8 L828.2 568.0 L830.7 568.2 L833.2 568.6 L835.7 569.0 L838.3 569.4 L840.8 569.9 L843.4 570.4 L846.0 570.9 L848.5 571.4 L851.1 571.8 L853.7 572.2 L856.3 572.5 L858.9 572.7 L861.5 572.8 L864.2 572.9 L866.8 572.8 L869.4 572.7 L872.1 572.6 L874.8 572.4 L877.4 572.2 L880.1 572.0 L882.8 571.8 L885.5 571.6 L888.2 571.4 L890.9 571.3 L893.6 571.2 L896.3 571.2 L899.0 571.2 L901.7 571.3 L904.4 571.4 L907.1 571.5 L909.8 571.6 L912.5 571.8 L915.1 571.8 L917.8 571.9 L920.5 571.9 L923.2 571.8 L925.8 571.7 L928.5 571.5 L931.2 571.2 L933.8 570.9 L936.5 570.5 L939.1 570.1 L941.8 569.7 L944.4 569.3 L947.1 568.9 L949.7 568.5 L952.4 568.1 L955.0 567.9 L957.6 567.6 L960.2 567.5 L962.8 567.5 L965.4 567.5 L968.0 567.6 L970.5 567.9 L973.1 568.2 L975.6 568.5 L978.1 569.0 L980.7 569.4 L983.2 569.9 L985.7 570.4 L988.2 570.8 L990.7 571.3 L993.2 571.6 L995.7 571.9 L998.2 572.2 L1000.7 572.3 L1003.1 572.4 L1005.6 572.4 L1008.1 572.4 L1010.6 572.2 L1013.1 572.1 L1015.6 571.9 L1018.1 571.8 L1020.6 571.6 L1023.2 571.4 L1025.7 571.3 L1028.2 571.3 L1030.7 571.2 L1033.3 571.3 L1035.8 571.4 L1038.4 571.5 L1040.9 571.7 L1043.5 571.9 L1046.1 572.1 M797.9 479.0 L794.5 480.0 L791.2 480.3 L788.0 480.0 L784.8 480.0 L781.5 481.2 L774.3 484.0 L771.7 488.1 L769.2 492.6 L766.6 496.9 L763.8 500.5 L760.8 503.6 L757.6 506.3 L754.5 508.8 L751.3 511.1 L748.1 513.3 L744.9 515.3 L741.7 517.2 L738.5 519.1 L735.3 520.9 L732.1 522.8 L728.8 524.7 L725.5 526.9 L722.1 529.1 L718.8 531.6 L715.4 534.0 L711.9 536.5 L708.5 538.9 L705.0 541.2 L701.5 543.3 L697.9 545.2 L694.4 546.9 L690.8 548.5 L687.2 550.0 L683.6 551.6 L680.0 553.3 L676.4 555.2 L672.8 557.3 L669.3 559.7 L665.7 562.1 L662.2 564.7 L658.7 567.2 L655.2 569.6 L651.8 571.8 L648.4 573.7 L645.0 575.4 M804.1 479.6 L800.8 481.2 L797.7 482.1 L794.6 482.3 L791.6 482.1 L788.6 482.3 L781.5 483.6 L778.6 486.5 L776.2 490.6 L773.9 495.0 L771.5 499.1 L768.9 502.7 L766.1 505.7 L763.1 508.4 L760.1 510.9 L757.1 513.2 L754.0 515.5 L751.0 517.6 L747.9 519.5 L744.7 521.4 L741.6 523.1 L738.4 524.9 L735.2 526.7 L731.9 528.6 L728.7 530.6 L725.3 532.8 L722.0 535.2 L718.6 537.6 L715.2 540.0 L711.8 542.4 L708.3 544.7 L704.9 546.8 L701.4 548.7 L698.0 550.4 L694.5 552.0 L691.1 553.5 L687.7 555.0 L684.3 556.7 L680.9 558.5 L677.6 560.5 L674.3 562.8 L671.0 565.2 L667.8 567.8 L664.6 570.4 L661.4 573.0 L658.3 575.4 M810.4 479.8 L807.3 481.8 L804.2 483.4 L801.3 484.3 L798.5 484.5 L795.7 484.3 L793.0 484.6 L786.0 486.1 L783.4 489.0 L781.2 493.0 L779.1 497.3 L776.8 501.2 L774.4 504.6 L771.7 507.6 L768.9 510.2 L766.0 512.7 L763.1 515.1 L760.1 517.4 L757.1 519.5 L754.1 521.5 L751.0 523.4 L747.9 525.2 L744.8 526.9 L741.6 528.6 L738.4 530.3 L735.2 532.1 L731.9 534.1 L728.6 536.2 L725.3 538.5 L722.0 540.9 L718.7 543.3 L715.4 545.7 L712.1 548.0 L708.8 550.2 L705.5 552.2 L702.3 554.1 L699.1 555.8 L695.9 557.4 L692.8 559.0 L689.6 560.6 L686.6 562.4 L683.5 564.4 L680.5 566.6 L677.6 569.0 L674.6 571.7 L671.7 574.5 M816.7 479.8 L813.8 482.0 L810.9 484.0 L808.1 485.5 L805.4 486.4 L802.9 486.6 L800.3 486.5 L797.7 486.9 L791.0 488.4 L788.6 491.3 L786.5 495.2 L784.6 499.4 L782.5 503.2 L780.1 506.4 L777.5 509.3 L774.8 511.8 L772.0 514.2 L769.2 516.6 L766.3 518.9 L763.3 521.2 L760.3 523.3 L757.3 525.3 L754.3 527.1 L751.2 528.8 L748.0 530.5 L744.9 532.2 L741.8 533.8 L738.6 535.6 L735.4 537.5 L732.2 539.6 L729.1 541.9 L725.9 544.3 L722.8 546.7 L719.7 549.2 L716.7 551.7 L713.6 554.1 L710.6 556.3 L707.7 558.4 L704.8 560.3 L701.9 562.1 L699.0 563.8 L696.2 565.5 L693.5 567.4 L690.7 569.3 L688.0 571.5 L685.2 573.9 M823.1 479.7 L820.4 482.0 L817.7 484.1 L815.1 486.1 L812.5 487.6 L810.0 488.4 L807.7 488.6 L805.3 488.6 L802.9 489.1 L796.3 490.6 L794.0 493.5 L792.1 497.3 L790.3 501.3 L788.2 505.0 L786.0 508.1 L783.5 510.8 L780.8 513.3 L778.1 515.6 L775.3 517.9 L772.4 520.3 L769.5 522.6 L766.6 524.8 L763.6 526.9 L760.6 528.9 L757.6 530.8 L754.6 532.6 L751.6 534.3 L748.5 536.0 L745.5 537.7 L742.5 539.5 L739.5 541.4 L736.6 543.5 L733.7 545.7 L730.8 548.2 L727.9 550.7 L725.1 553.4 L722.4 556.0 L719.6 558.6 L717.0 561.1 L714.3 563.5 L711.7 565.7 L709.1 567.7 L706.5 569.6 L703.9 571.4 L701.4 573.3 L698.8 575.2 M829.6 479.6 L827.0 481.8 L824.5 484.1 L822.1 486.2 L819.6 488.1 L817.3 489.5 L815.0 490.3 L812.8 490.6 L810.6 490.7 L808.4 491.2 L801.9 492.7 L799.7 495.5 L797.9 499.1 L796.1 503.0 L794.1 506.7 L791.9 509.7 L789.5 512.3 L786.9 514.7 L784.2 516.9 L781.4 519.2 L778.6 521.5 L775.8 523.9 L772.9 526.2 L770.0 528.5 L767.1 530.7 L764.3 532.8 L761.4 534.8 L758.5 536.7 L755.7 538.6 L752.9 540.3 L750.1 542.1 L747.3 544.0 L744.6 546.0 L742.0 548.1 L739.4 550.4 L736.8 552.8 L734.3 555.4 L731.8 558.2 L729.3 560.9 L726.9 563.7 L724.5 566.4 L722.0 569.0 L719.6 571.5 L717.2 573.7 L714.8 575.8 L712.3 577.7 M836.1 479.6 L833.7 481.8 L831.4 483.9 L829.1 486.0 L826.9 488.1 L824.6 489.9 L822.5 491.4 L820.4 492.2 L818.3 492.5 L816.2 492.6 L814.0 493.1 L807.6 494.6 L805.5 497.3 L803.7 500.9 L801.9 504.8 L800.0 508.3 L797.9 511.4 L795.5 514.0 L793.0 516.3 L790.3 518.5 L787.6 520.7 L784.9 522.9 L782.2 525.3 L779.4 527.7 L776.7 530.1 L773.9 532.6 L771.2 534.9 L768.6 537.2 L765.9 539.4 L763.3 541.5 L760.8 543.5 L758.3 545.5 L755.8 547.4 L753.4 549.3 L751.0 551.3 L748.7 553.4 L746.3 555.6 L744.1 558.0 L741.8 560.6 L739.5 563.2 L737.3 566.0 L735.0 568.8 L732.7 571.6 L730.4 574.3 L728.0 576.8 L725.7 579.2 M842.7 479.7 L840.5 481.7 L838.3 483.8 L836.2 485.9 L834.1 487.9 L832.0 489.9 L830.0 491.7 L827.9 493.1 L825.9 493.9 L823.9 494.3 L821.9 494.5 L819.8 495.0 L813.5 496.5 L811.3 499.1 L809.5 502.6 L807.7 506.5 L805.9 510.1 L803.8 513.3 L801.5 515.9 L799.1 518.2 L796.6 520.4 L794.0 522.5 L791.4 524.8 L788.8 527.1 L786.2 529.5 L783.7 532.0 L781.2 534.6 L778.7 537.1 L776.3 539.7 L773.9 542.2 L771.6 544.6 L769.3 546.9 L767.1 549.1 L764.9 551.1 L762.8 553.1 L760.6 555.1 L758.5 557.1 L756.4 559.0 L754.3 561.1 L752.2 563.3 L750.0 565.6 L747.9 568.0 L745.7 570.5 L743.4 573.1 L741.2 575.8 L738.8 578.4 M849.3 479.8 L847.3 481.8 L845.3 483.8 L843.3 485.8 L841.4 487.8 L839.4 489.8 L837.5 491.7 L835.5 493.4 L833.6 494.8 L831.6 495.7 L829.7 496.1 L827.7 496.3 L825.6 496.9 L823.4 498.3 L817.2 500.8 L815.3 504.3 L813.6 508.2 L811.8 512.0 L809.8 515.4 L807.7 518.2 L805.4 520.6 L803.1 522.8 L800.7 525.0 L798.3 527.1 L795.9 529.4 L793.6 531.7 L791.3 534.2 L789.0 536.8 L786.8 539.4 L784.7 542.1 L782.6 544.8 L780.6 547.4 L778.6 549.9 L776.6 552.3 L774.6 554.6 L772.6 556.8 L770.7 558.8 L768.7 560.7 L766.7 562.5 L764.7 564.3 L762.7 566.1 L760.6 568.0 L758.5 569.9 L756.3 571.9 L754.0 574.1 L751.8 576.3 M855.9 479.9 L854.1 481.9 L852.3 483.8 L850.5 485.8 L848.7 487.7 L846.8 489.7 L845.0 491.6 L843.1 493.4 L841.2 495.1 L839.3 496.5 L837.4 497.4 L835.4 498.0 L833.5 498.3 L831.5 498.9 L829.3 500.2 L823.0 502.6 L821.2 506.1 L819.5 510.0 L817.8 514.1 L816.1 517.7 L814.1 520.8 L812.1 523.4 L809.9 525.7 L807.8 527.9 L805.6 530.0 L803.5 532.2 L801.5 534.5 L799.5 536.8 L797.5 539.2 L795.6 541.8 L793.7 544.4 L791.9 547.0 L790.1 549.6 L788.3 552.2 L786.5 554.8 L784.7 557.2 L782.9 559.5 L781.0 561.6 L779.1 563.6 L777.2 565.5 L775.2 567.2 L773.1 568.8 L771.0 570.3 L768.9 571.9 L766.7 573.4 L764.5 575.1 M862.5 479.9 L860.9 482.0 L859.3 483.9 L857.6 485.9 L855.9 487.8 L854.2 489.7 L852.4 491.6 L850.6 493.5 L848.8 495.3 L846.9 497.0 L845.0 498.4 L843.1 499.4 L841.2 500.0 L839.3 500.4 L837.4 501.0 L835.3 502.3 L829.1 504.6 L827.2 507.9 L825.6 511.9 L824.2 516.1 L822.6 520.1 L821.0 523.5 L819.2 526.4 L817.4 528.9 L815.5 531.2 L813.6 533.3 L811.8 535.4 L810.1 537.5 L808.3 539.7 L806.6 541.8 L805.0 544.1 L803.3 546.4 L801.7 548.8 L800.0 551.2 L798.3 553.7 L796.6 556.1 L794.9 558.5 L793.1 560.9 L791.3 563.1 L789.4 565.2 L787.5 567.2 L785.5 569.1 L783.4 570.8 L781.3 572.4 L779.2 573.9 L777.0 575.3 M869.2 479.9 L867.7 481.9 L866.2 484.0 L864.7 486.0 L863.1 487.9 L861.5 489.8 L859.8 491.7 L858.1 493.6 L856.4 495.5 L854.5 497.3 L852.7 499.0 L850.8 500.5 L848.9 501.7 L847.1 502.4 L845.2 502.9 L843.4 503.5 L841.5 504.6 L835.4 506.7 L833.6 509.8 L832.2 513.7 L830.9 518.0 L829.7 522.3 L828.3 526.0 L826.9 529.3 L825.4 532.0 L823.8 534.4 L822.3 536.6 L820.8 538.7 L819.2 540.6 L817.7 542.6 L816.2 544.5 L814.7 546.4 L813.2 548.4 L811.7 550.4 L810.1 552.5 L808.5 554.6 L806.8 556.8 L805.1 559.0 L803.3 561.2 L801.5 563.4 L799.6 565.7 L797.6 567.8 L795.6 570.0 L793.6 572.0 L791.6 573.9 L789.5 575.8 M875.9 479.7 L874.5 481.8 L873.1 483.9 L871.7 486.0 L870.3 488.0 L868.7 490.0 L867.2 492.0 L865.5 493.9 L863.8 495.9 L862.1 497.8 L860.3 499.7 L858.5 501.5 L856.7 503.0 L854.9 504.3 L853.1 505.2 L851.4 505.8 L849.7 506.3 L848.0 507.3 L846.3 509.0 L840.5 511.7 L839.2 515.4 L838.2 519.7 L837.2 524.0 L836.3 528.0 L835.2 531.5 L834.0 534.6 L832.8 537.2 L831.5 539.4 L830.2 541.5 L828.8 543.4 L827.5 545.2 L826.1 547.0 L824.7 548.7 L823.3 550.3 L821.7 552.0 L820.2 553.7 L818.5 555.5 L816.9 557.4 L815.1 559.3 L813.3 561.3 L811.5 563.5 L809.6 565.7 L807.7 568.0 L805.8 570.3 L803.9 572.7 L802.0 575.1 M882.5 479.4 L881.3 481.6 L880.0 483.7 L878.7 485.8 L877.4 488.0 L875.9 490.1 L874.4 492.2 L872.9 494.2 L871.3 496.3 L869.6 498.3 L867.9 500.3 L866.2 502.3 L864.5 504.2 L862.7 505.9 L861.1 507.3 L859.5 508.3 L857.9 509.0 L856.5 509.5 L855.1 510.2 L853.6 511.5 L848.1 513.8 L847.0 517.0 L846.1 520.9 L845.4 525.1 L844.8 529.2 L844.0 532.9 L843.2 536.2 L842.2 538.9 L841.1 541.4 L839.9 543.5 L838.7 545.5 L837.4 547.3 L836.1 549.1 L834.7 550.7 L833.2 552.3 L831.7 553.9 L830.1 555.5 L828.5 557.1 L826.8 558.8 L825.0 560.5 L823.3 562.4 L821.5 564.4 L819.8 566.5 L818.0 568.8 L816.3 571.2 L814.7 573.8 M889.2 479.1 L888.1 481.3 L886.9 483.4 L885.7 485.6 L884.4 487.8 L883.0 490.0 L881.6 492.2 L880.2 494.4 L878.6 496.6 L877.1 498.8 L875.5 501.0 L873.9 503.1 L872.3 505.2 L870.7 507.2 L869.1 509.0 L867.6 510.5 L866.3 511.7 L865.0 512.4 L863.8 512.9 L862.7 513.4 L861.6 514.3 L860.5 515.9 L855.3 518.4 L854.6 521.7 L854.1 525.6 L853.7 529.6 L853.2 533.4 L852.6 536.8 L851.8 539.7 L850.8 542.3 L849.7 544.6 L848.5 546.8 L847.3 548.8 L845.9 550.7 L844.5 552.5 L843.0 554.3 L841.5 556.1 L839.9 557.9 L838.3 559.6 L836.7 561.4 L835.1 563.2 L833.5 565.1 L831.9 567.1 L830.4 569.2 L828.9 571.4 L827.5 573.7 M895.8 478.8 L894.8 481.0 L893.7 483.1 L892.6 485.3 L891.4 487.6 L890.1 489.8 L888.8 492.1 L887.4 494.4 L886.0 496.8 L884.5 499.1 L883.0 501.4 L881.5 503.7 L880.1 505.9 L878.7 508.1 L877.3 510.2 L876.0 512.1 L874.8 513.8 L873.6 515.1 L872.6 516.0 L871.7 516.5 L870.9 516.8 L870.1 517.2 L869.3 518.2 L864.4 519.9 L863.7 522.5 L863.2 525.8 L862.9 529.5 L862.6 533.2 L862.1 536.7 L861.4 539.8 L860.5 542.6 L859.4 545.1 L858.3 547.4 L857.0 549.7 L855.6 551.9 L854.2 554.1 L852.8 556.3 L851.3 558.5 L849.8 560.6 L848.3 562.8 L846.9 564.9 L845.5 567.1 L844.2 569.2 L842.9 571.3 L841.6 573.5 L840.5 575.7 M902.3 478.7 L901.4 480.8 L900.4 482.9 L899.4 485.1 L898.3 487.4 L897.1 489.7 L895.8 492.0 L894.6 494.3 L893.2 496.7 L891.9 499.1 L890.6 501.5 L889.3 503.9 L888.0 506.3 L886.7 508.6 L885.6 510.9 L884.5 513.0 L883.4 515.0 L882.5 516.8 L881.7 518.2 L880.9 519.3 L880.3 519.9 L879.7 520.1 L879.1 520.3 L878.5 520.7 L877.9 521.8 L873.1 523.6 L872.6 526.2 L872.2 529.4 L871.8 532.9 L871.4 536.4 L870.8 539.7 L870.0 542.7 L869.0 545.5 L867.8 548.1 L866.6 550.6 L865.3 553.1 L864.0 555.6 L862.6 558.2 L861.3 560.7 L860.1 563.3 L858.8 565.9 L857.7 568.5 L856.6 571.0 L855.6 573.5 L854.6 575.9 L853.7 578.2 M908.8 478.7 L908.0 480.8 L907.1 482.9 L906.1 485.1 L905.1 487.3 L904.0 489.6 L902.9 491.9 L901.7 494.2 L900.5 496.6 L899.3 499.0 L898.1 501.4 L897.0 503.8 L895.9 506.2 L894.9 508.6 L893.9 511.0 L893.1 513.2 L892.3 515.4 L891.5 517.5 L890.9 519.3 L890.3 520.9 L889.8 522.1 L889.3 522.9 L888.9 523.3 L888.5 523.5 L888.0 523.7 L887.4 524.2 L886.8 525.4 L882.0 527.3 L881.4 530.0 L881.0 533.3 L880.5 536.8 L880.0 540.3 L879.2 543.6 L878.4 546.6 L877.4 549.5 L876.3 552.2 L875.2 554.9 L874.1 557.5 L873.0 560.2 L871.9 563.0 L871.0 565.7 L870.1 568.5 L869.2 571.2 L868.5 573.9 L867.8 576.5 L867.2 579.0 M915.3 478.8 L914.6 480.9 L913.7 483.0 L912.8 485.2 L911.9 487.4 L910.9 489.6 L909.9 491.9 L908.8 494.2 L907.8 496.5 L906.7 498.9 L905.7 501.2 L904.8 503.6 L903.9 505.9 L903.1 508.3 L902.4 510.6 L901.8 512.9 L901.2 515.1 L900.7 517.2 L900.2 519.3 L899.8 521.2 L899.4 522.9 L899.0 524.3 L898.7 525.4 L898.3 526.2 L897.9 526.6 L897.5 526.9 L896.9 527.3 L896.3 528.2 L895.5 529.6 L890.7 531.9 L890.1 534.8 L889.5 538.2 L889.0 541.8 L888.5 545.4 L887.8 548.8 L887.1 551.9 L886.3 554.8 L885.5 557.5 L884.7 560.2 L884.0 562.7 L883.3 565.3 L882.6 567.9 L882.1 570.4 L881.6 572.9 L881.1 575.3 L880.7 577.7 M921.7 479.1 L921.0 481.2 L920.3 483.3 L919.5 485.5 L918.6 487.7 L917.8 489.9 L916.8 492.1 L915.9 494.4 L915.0 496.6 L914.2 498.9 L913.4 501.1 L912.7 503.4 L912.0 505.6 L911.5 507.8 L911.0 510.0 L910.6 512.2 L910.2 514.3 L909.9 516.4 L909.6 518.5 L909.4 520.5 L909.1 522.5 L908.8 524.3 L908.5 526.0 L908.1 527.5 L907.7 528.7 L907.3 529.7 L906.8 530.4 L906.2 531.1 L905.6 531.9 L904.8 533.2 L900.1 535.1 L899.4 537.7 L898.8 540.9 L898.3 544.4 L898.0 548.1 L897.7 551.7 L897.3 555.1 L896.9 558.1 L896.5 560.9 L896.1 563.4 L895.7 565.7 L895.4 567.9 L895.1 570.0 L894.8 572.1 L894.5 574.1 L894.3 576.0 M928.0 479.4 L927.5 481.5 L926.8 483.7 L926.1 485.9 L925.4 488.1 L924.6 490.3 L923.8 492.5 L923.1 494.7 L922.4 496.9 L921.7 499.1 L921.1 501.2 L920.6 503.3 L920.2 505.4 L919.9 507.4 L919.6 509.5 L919.4 511.5 L919.3 513.5 L919.2 515.5 L919.0 517.5 L918.9 519.5 L918.8 521.5 L918.6 523.5 L918.3 525.5 L918.0 527.5 L917.6 529.4 L917.1 531.1 L916.6 532.6 L916.0 534.0 L915.4 535.2 L914.8 536.4 L914.2 537.8 L913.5 539.5 L912.8 541.7 L908.7 544.5 L908.4 547.8 L908.2 551.3 L908.2 554.8 L908.2 558.2 L908.2 561.3 L908.2 564.1 L908.2 566.5 L908.2 568.6 L908.1 570.5 L908.0 572.3 L907.9 573.9 L907.8 575.5 M934.3 479.6 L933.8 481.9 L933.3 484.1 L932.7 486.3 L932.1 488.6 L931.4 490.8 L930.8 493.0 L930.3 495.2 L929.7 497.3 L929.3 499.4 L929.0 501.4 L928.7 503.5 L928.5 505.4 L928.4 507.4 L928.4 509.3 L928.4 511.1 L928.4 513.0 L928.4 514.9 L928.5 516.8 L928.4 518.7 L928.4 520.7 L928.2 522.7 L928.0 524.8 L927.7 527.0 L927.3 529.1 L926.9 531.3 L926.4 533.5 L925.8 535.5 L925.3 537.5 L924.7 539.3 L924.2 541.0 L923.7 542.8 L923.3 544.6 L922.8 546.6 L922.5 549.0 L919.7 551.7 L919.7 554.7 L919.9 557.7 L920.1 560.8 L920.4 563.7 L920.7 566.3 L921.0 568.7 L921.1 570.8 L921.2 572.6 L921.2 574.4 L921.1 576.0 M940.6 479.8 L940.2 482.1 L939.7 484.4 L939.2 486.7 L938.8 488.9 L938.3 491.2 L937.9 493.4 L937.5 495.5 L937.2 497.7 L937.0 499.7 L936.9 501.7 L936.8 503.7 L936.9 505.6 L937.0 507.5 L937.1 509.3 L937.3 511.2 L937.5 513.0 L937.7 514.8 L937.8 516.7 L937.9 518.6 L937.9 520.6 L937.8 522.6 L937.6 524.7 L937.4 526.9 L937.0 529.1 L936.6 531.4 L936.2 533.8 L935.7 536.1 L935.2 538.5 L934.8 540.8 L934.4 543.0 L934.1 545.1 L933.8 547.1 L933.7 549.1 L933.6 551.1 L933.6 553.2 L933.7 555.4 L932.5 557.7 L932.8 560.2 L933.1 562.6 L933.5 565.0 L933.8 567.4 L934.0 569.6 L934.2 571.7 L934.3 573.8 L934.2 575.8 M946.8 479.9 L946.5 482.2 L946.2 484.5 L945.8 486.8 L945.5 489.1 L945.2 491.3 L944.9 493.5 L944.8 495.7 L944.7 497.8 L944.7 499.9 L944.8 501.9 L945.0 503.8 L945.3 505.8 L945.6 507.6 L945.9 509.5 L946.3 511.4 L946.6 513.2 L946.9 515.1 L947.1 517.1 L947.3 519.0 L947.3 521.1 L947.3 523.2 L947.1 525.3 L946.9 527.5 L946.6 529.8 L946.3 532.1 L946.0 534.5 L945.6 536.9 L945.3 539.2 L945.0 541.5 L944.9 543.8 L944.8 546.0 L944.7 548.1 L944.8 550.1 L945.0 552.1 L945.3 553.9 L945.6 555.8 L945.9 557.6 L946.3 559.5 L946.1 561.4 L946.4 563.4 L946.8 565.5 L947.0 567.6 L947.1 569.8 L947.2 572.0 L947.1 574.3 M953.0 479.8 L952.8 482.1 L952.6 484.4 L952.4 486.7 L952.2 489.0 L952.1 491.2 L952.1 493.4 L952.1 495.6 L952.3 497.7 L952.5 499.7 L952.9 501.7 L953.3 503.7 L953.8 505.6 L954.3 507.6 L954.8 509.5 L955.2 511.5 L955.7 513.5 L956.0 515.5 L956.3 517.6 L956.5 519.7 L956.6 521.9 L956.6 524.1 L956.5 526.4 L956.4 528.7 L956.2 531.1 L956.0 533.4 L955.8 535.8 L955.6 538.1 L955.5 540.3 L955.5 542.5 L955.5 544.7 L955.7 546.7 L955.9 548.6 L956.3 550.5 L956.7 552.3 L957.2 554.0 L957.7 555.6 L958.2 557.3 L958.6 558.9 L959.1 560.7 L959.4 562.4 L959.7 564.3 L959.8 566.3 L959.9 568.4 L959.9 570.7 L959.9 573.1 M959.1 479.7 L959.0 482.0 L959.0 484.3 L959.0 486.5 L959.0 488.7 L959.1 490.9 L959.3 493.0 L959.6 495.1 L960.0 497.2 L960.4 499.2 L961.0 501.2 L961.6 503.2 L962.3 505.2 L962.9 507.2 L963.6 509.2 L964.1 511.2 L964.6 513.4 L965.1 515.5 L965.4 517.7 L965.6 520.0 L965.8 522.4 L965.8 524.8 L965.8 527.2 L965.8 529.7 L965.7 532.1 L965.6 534.5 L965.6 536.9 L965.7 539.2 L965.8 541.4 L966.0 543.5 L966.4 545.5 L966.8 547.4 L967.3 549.3 L967.9 551.0 L968.5 552.7 L969.2 554.3 L969.8 556.0 L970.4 557.6 L971.0 559.3 L971.5 561.0 L971.9 562.8 L972.2 564.8 L972.4 566.8 L972.5 569.0 L972.5 571.3 L972.4 573.7 M965.2 479.6 L965.3 481.9 L965.4 484.1 L965.6 486.3 L965.8 488.4 L966.1 490.5 L966.6 492.6 L967.1 494.6 L967.7 496.6 L968.4 498.6 L969.2 500.5 L970.0 502.5 L970.8 504.5 L971.6 506.5 L972.3 508.5 L973.0 510.6 L973.5 512.8 L974.0 515.0 L974.4 517.4 L974.7 519.8 L974.8 522.2 L975.0 524.7 L975.1 527.2 L975.1 529.8 L975.2 532.3 L975.4 534.7 L975.6 537.1 L975.9 539.4 L976.3 541.6 L976.8 543.7 L977.4 545.7 L978.1 547.6 L978.8 549.4 L979.6 551.2 L980.4 552.9 L981.2 554.7 L982.0 556.4 L982.6 558.3 L983.2 560.2 L983.7 562.2 L984.1 564.3 L984.4 566.5 L984.6 568.8 L984.8 571.2 L984.9 573.7 L985.0 576.2 M971.4 479.6 L971.6 481.8 L971.9 483.9 L972.3 486.0 L972.7 488.1 L973.2 490.1 L973.9 492.1 L974.7 494.0 L975.5 496.0 L976.4 497.9 L977.4 499.8 L978.3 501.7 L979.3 503.6 L980.2 505.6 L981.0 507.6 L981.7 509.7 L982.3 511.9 L982.8 514.1 L983.3 516.4 L983.6 518.8 L983.9 521.3 L984.1 523.8 L984.3 526.4 L984.5 528.9 L984.8 531.4 L985.2 533.8 L985.7 536.2 L986.2 538.5 L986.9 540.6 L987.7 542.7 L988.5 544.7 L989.4 546.6 L990.4 548.5 L991.3 550.3 L992.3 552.2 L993.2 554.2 L994.0 556.2 L994.7 558.4 L995.3 560.6 L995.8 563.0 L996.2 565.4 L996.5 567.9 L996.8 570.5 L997.0 573.2 L997.2 575.8 L997.5 578.4 M977.5 479.7 L977.9 481.8 L978.4 483.9 L979.0 485.9 L979.6 487.9 L980.4 489.9 L981.3 491.8 L982.3 493.7 L983.4 495.5 L984.5 497.4 L985.6 499.3 L986.7 501.1 L987.7 503.0 L988.7 504.9 L989.6 506.9 L990.3 508.9 L991.0 511.0 L991.6 513.2 L992.0 515.4 L992.5 517.7 L992.8 520.1 L993.2 522.6 L993.6 525.1 L994.0 527.5 L994.5 530.0 L995.1 532.3 L995.9 534.6 L996.7 536.8 L997.6 538.9 L998.6 541.0 L999.7 542.9 L1000.8 544.9 L1001.9 546.8 L1003.0 548.8 L1004.0 550.9 L1005.0 553.0 L1005.8 555.3 L1006.5 557.7 L1007.1 560.2 L1007.7 562.7 L1008.1 565.4 L1008.5 568.1 L1008.8 570.8 L1009.2 573.4 L1009.6 576.0 L1010.1 578.6 M983.7 479.8 L984.3 481.9 L985.0 483.9 L985.8 485.9 L986.7 487.9 L987.7 489.8 L988.8 491.7 L990.0 493.5 L991.2 495.4 L992.5 497.2 L993.8 499.1 L995.0 500.9 L996.1 502.8 L997.1 504.7 L998.1 506.6 L998.9 508.5 L999.6 510.5 L1000.2 512.6 L1000.8 514.8 L1001.3 517.1 L1001.8 519.4 L1002.3 521.8 L1002.9 524.2 L1003.6 526.6 L1004.3 528.9 L1005.2 531.2 L1006.2 533.4 L1007.3 535.5 L1008.5 537.6 L1009.7 539.6 L1011.0 541.5 L1012.3 543.5 L1013.5 545.6 L1014.6 547.7 L1015.7 549.9 L1016.6 552.2 L1017.5 554.6 L1018.2 557.1 L1018.8 559.7 L1019.4 562.3 L1019.9 564.9 L1020.4 567.6 L1020.9 570.1 L1021.5 572.6 L1022.2 574.9 L1022.9 577.1 M989.9 479.9 L990.7 482.0 L991.6 484.0 L992.6 486.0 L993.7 487.9 L995.0 489.8 L996.3 491.7 L997.7 493.6 L999.1 495.5 L1000.5 497.4 L1001.9 499.2 L1003.2 501.1 L1004.4 503.0 L1005.5 504.9 L1006.5 506.8 L1007.3 508.8 L1008.1 510.8 L1008.8 512.9 L1009.4 515.1 L1010.1 517.3 L1010.8 519.6 L1011.5 521.9 L1012.3 524.3 L1013.2 526.6 L1014.3 528.9 L1015.4 531.1 L1016.7 533.2 L1018.0 535.3 L1019.4 537.3 L1020.8 539.3 L1022.3 541.4 L1023.6 543.5 L1024.9 545.6 L1026.1 547.9 L1027.2 550.2 L1028.1 552.7 L1029.0 555.2 L1029.7 557.7 L1030.4 560.3 L1031.0 562.9 L1031.7 565.4 L1032.4 567.8 L1033.1 570.0 L1033.9 572.2 L1034.9 574.2 L1035.9 576.0 M996.1 480.0 L997.1 482.1 L998.3 484.1 L999.5 486.1 L1000.9 488.0 L1002.3 490.0 L1003.9 491.9 L1005.5 493.8 L1007.0 495.8 L1008.6 497.7 L1010.0 499.7 L1011.4 501.7 L1012.6 503.6 L1013.8 505.6 L1014.8 507.7 L1015.7 509.7 L1016.5 511.8 L1017.3 514.0 L1018.1 516.2 L1018.9 518.4 L1019.8 520.7 L1020.8 523.0 L1021.8 525.2 L1023.0 527.4 L1024.3 529.6 L1025.8 531.7 L1027.3 533.8 L1028.8 535.9 L1030.4 538.0 L1031.9 540.1 L1033.5 542.3 L1034.9 544.5 L1036.2 546.9 L1037.4 549.3 L1038.5 551.8 L1039.4 554.4 L1040.3 557.0 L1041.1 559.6 L1041.9 562.1 L1042.7 564.5 L1043.5 566.8 L1044.4 568.9 L1045.5 571.0 L1046.6 572.8 L1047.8 574.6 L1049.2 576.2 M1002.4 480.1 L1003.6 482.1 L1005.0 484.1 L1006.5 486.1 L1008.1 488.0 L1009.7 490.0 L1011.5 492.0 L1013.2 494.0 L1014.9 496.1 L1016.5 498.1 L1018.1 500.2 L1019.5 502.3 L1020.8 504.4 L1022.0 506.6 L1023.0 508.7 L1024.0 510.9 L1025.0 513.1 L1025.9 515.3 L1026.8 517.5 L1027.8 519.7 L1028.9 521.9 L1030.2 524.1 L1031.5 526.2 L1033.0 528.3 L1034.5 530.4 L1036.2 532.5 L1037.9 534.5 L1039.6 536.7 L1041.3 538.8 L1043.0 541.1 L1044.5 543.4 L1046.0 545.9 L1047.3 548.4 L1048.5 551.0 L1049.6 553.6 L1050.6 556.2 L1051.6 558.8 L1052.5 561.3 L1053.4 563.6 L1054.4 565.9 L1055.5 568.0 L1056.7 569.9 L1058.0 571.7 L1059.4 573.4 L1061.0 575.0 L1062.6 576.6 M1008.7 479.9 L1010.2 482.0 L1011.8 484.0 L1013.5 485.9 L1015.3 487.9 L1017.2 490.0 L1019.1 492.0 L1020.9 494.1 L1022.7 496.3 L1024.4 498.4 L1026.0 500.6 L1027.5 502.8 L1028.8 505.1 L1030.1 507.3 L1031.2 509.6 L1032.3 511.8 L1033.3 514.0 L1034.4 516.2 L1035.6 518.3 L1036.8 520.4 L1038.2 522.5 L1039.7 524.5 L1041.3 526.5 L1043.0 528.5 L1044.8 530.5 L1046.7 532.6 L1048.6 534.7 L1050.4 536.9 L1052.2 539.1 L1053.9 541.5 L1055.5 544.0 L1056.9 546.6 L1058.3 549.2 L1059.5 551.8 L1060.6 554.4 L1061.7 556.9 L1062.8 559.3 L1063.9 561.5 L1065.0 563.7 L1066.3 565.6 L1067.6 567.5 L1069.1 569.2 L1070.8 570.8 L1072.5 572.5 L1074.3 574.1 L1076.2 575.8 M1015.1 479.7 L1016.8 481.7 L1018.6 483.7 L1020.6 485.7 L1022.6 487.7 L1024.6 489.8 L1026.6 491.9 L1028.6 494.1 L1030.5 496.3 L1032.3 498.6 L1033.9 500.8 L1035.4 503.1 L1036.8 505.4 L1038.1 507.7 L1039.3 509.9 L1040.5 512.1 L1041.8 514.3 L1043.0 516.3 L1044.4 518.3 L1045.9 520.3 L1047.5 522.2 L1049.3 524.1 L1051.2 526.0 L1053.1 527.9 L1055.1 529.9 L1057.2 532.0 L1059.2 534.2 L1061.1 536.4 L1063.0 538.8 L1064.7 541.3 L1066.3 543.9 L1067.7 546.4 L1069.1 549.0 L1070.4 551.5 L1071.6 553.9 L1072.8 556.2 L1074.0 558.3 L1075.3 560.3 L1076.8 562.1 L1078.3 563.8 L1080.0 565.4 L1081.8 567.0 L1083.7 568.6 L1085.7 570.2 L1087.7 572.0 L1089.7 573.9 M1021.5 479.4 L1023.5 481.4 L1025.5 483.4 L1027.7 485.4 L1029.9 487.5 L1032.0 489.6 L1034.2 491.8 L1036.2 494.0 L1038.2 496.3 L1040.0 498.6 L1041.7 500.9 L1043.3 503.2 L1044.7 505.5 L1046.1 507.7 L1047.4 509.9 L1048.8 512.0 L1050.2 514.0 L1051.7 515.9 L1053.3 517.8 L1055.1 519.6 L1057.0 521.4 L1059.0 523.2 L1061.1 525.1 L1063.3 527.1 L1065.5 529.2 L1067.7 531.3 L1069.7 533.6 L1071.7 536.0 L1073.6 538.5 L1075.3 541.0 L1076.9 543.6 L1078.4 546.1 L1079.8 548.5 L1081.2 550.8 L1082.5 553.0 L1083.9 555.0 L1085.4 556.9 L1087.0 558.6 L1088.7 560.3 L1090.5 561.8 L1092.5 563.4 L1094.6 565.0 L1096.8 566.8 L1098.9 568.6 L1101.1 570.7 L1103.2 572.9 M1028.0 479.1 L1030.2 481.1 L1032.5 483.1 L1034.8 485.1 L1037.1 487.2 L1039.4 489.4 L1041.7 491.6 L1043.8 493.9 L1045.8 496.2 L1047.7 498.6 L1049.4 500.9 L1051.0 503.2 L1052.6 505.4 L1054.1 507.5 L1055.5 509.6 L1057.1 511.6 L1058.7 513.5 L1060.5 515.3 L1062.4 517.1 L1064.4 518.9 L1066.6 520.8 L1068.8 522.7 L1071.2 524.6 L1073.5 526.7 L1075.8 529.0 L1078.1 531.3 L1080.2 533.8 L1082.2 536.3 L1084.1 538.8 L1085.8 541.4 L1087.4 543.9 L1089.0 546.3 L1090.5 548.6 L1092.0 550.7 L1093.5 552.7 L1095.1 554.5 L1096.9 556.2 L1098.8 557.9 L1100.8 559.5 L1102.9 561.2 L1105.2 562.9 L1107.5 564.8 L1109.9 566.9 L1112.2 569.1 L1114.4 571.5 L1116.6 574.1 M1034.6 478.8 L1037.0 480.8 L1039.4 482.9 L1041.9 485.0 L1044.4 487.2 L1046.8 489.4 L1049.1 491.7 L1051.3 494.0 L1053.4 496.4 L1055.3 498.7 L1057.1 501.0 L1058.8 503.2 L1060.4 505.4 L1062.0 507.5 L1063.7 509.4 L1065.5 511.4 L1067.3 513.2 L1069.4 515.0 L1071.5 516.9 L1073.8 518.7 L1076.2 520.7 L1078.7 522.7 L1081.2 524.9 L1083.7 527.2 L1086.1 529.6 L1088.4 532.2 L1090.5 534.7 L1092.5 537.4 L1094.4 539.9 L1096.2 542.5 L1097.8 544.9 L1099.5 547.1 L1101.1 549.2 L1102.8 551.2 L1104.6 553.0 L1106.5 554.8 L1108.6 556.5 L1110.8 558.2 L1113.1 560.0 L1115.5 561.9 L1118.0 563.9 L1120.5 566.2 L1122.9 568.6 L1125.3 571.2 L1127.6 573.9 L1129.7 576.7 M1041.2 478.7 L1043.8 480.7 L1046.4 482.9 L1049.0 485.0 L1051.6 487.3 L1054.1 489.6 L1056.5 491.9 L1058.8 494.3 L1060.9 496.7 L1062.8 499.0 L1064.7 501.3 L1066.4 503.5 L1068.2 505.6 L1070.0 507.6 L1071.9 509.5 L1073.9 511.4 L1076.1 513.3 L1078.4 515.1 L1080.8 517.1 L1083.3 519.1 L1085.9 521.2 L1088.6 523.5 L1091.2 525.8 L1093.8 528.3 L1096.2 530.9 L1098.5 533.5 L1100.7 536.2 L1102.7 538.7 L1104.6 541.2 L1106.4 543.6 L1108.2 545.8 L1110.0 547.9 L1111.8 549.8 L1113.8 551.6 L1115.9 553.4 L1118.1 555.1 L1120.4 556.8 L1122.9 558.6 L1125.5 560.6 L1128.1 562.7 L1130.8 565.0 L1133.4 567.5 L1135.9 570.1 L1138.3 572.8 L1140.5 575.6 L1142.6 578.3" fill="none" stroke="#b4d0f6" stroke-opacity="0.36" stroke-width="0.95"/></g>
<text x="854.31" y="286.30" font-size="46.50" textLength="103.52" lengthAdjust="spacingAndGlyphs" fill="#fff" font-weight="700" stroke="#fff" stroke-width="1.0" stroke-linejoin="round">46.2</text>
<text x="957.06" y="286.30" font-size="46.50" textLength="34.55" lengthAdjust="spacingAndGlyphs" fill="#fff" stroke="#fff" stroke-width="1.4" stroke-linejoin="round">%</text>
<text x="837.29" y="323.70" font-size="18.60" textLength="51.17" lengthAdjust="spacingAndGlyphs" fill="#fff" stroke="#fff" stroke-width="0.45" stroke-linejoin="round">Global</text>
<text x="892.96" y="323.70" font-size="18.60" textLength="56.57" lengthAdjust="spacingAndGlyphs" fill="#fff" stroke="#fff" stroke-width="0.45" stroke-linejoin="round">Market</text>
<text x="955.14" y="323.70" font-size="18.60" textLength="51.89" lengthAdjust="spacingAndGlyphs" fill="#fff" stroke="#fff" stroke-width="0.45" stroke-linejoin="round">CAGR,</text>
<text x="867.52" y="347.40" font-size="19.40" textLength="44.85" lengthAdjust="spacingAndGlyphs" fill="#fff" stroke="#fff" stroke-width="0.45" stroke-linejoin="round">2025</text>
<text x="917.02" y="347.40" font-size="19.40" textLength="6.73" lengthAdjust="spacingAndGlyphs" fill="#fff" stroke="#fff" stroke-width="0.45" stroke-linejoin="round">-</text>
<text x="927.51" y="347.40" font-size="19.40" textLength="45.16" lengthAdjust="spacingAndGlyphs" fill="#fff" stroke="#fff" stroke-width="0.45" stroke-linejoin="round">2030</text>
<rect x="840.5" y="297.8" width="164" height="1.7" fill="#e6d3df"/>
<path d="M934.7 609.6 L946.1 586.0 L958.1 609.3 M934.7 609.6 L946.6 604.6" fill="none" stroke="#2a6cf3" stroke-width="3.9" stroke-linecap="round" stroke-linejoin="round"/>
<text x="960.37" y="601.80" font-size="17.80" textLength="94.93" lengthAdjust="spacingAndGlyphs" fill="#0c0c10" stroke="#0c0c10" stroke-width="0.55" stroke-linejoin="round">appinventiv</text>
</svg>
</body>
</html>
